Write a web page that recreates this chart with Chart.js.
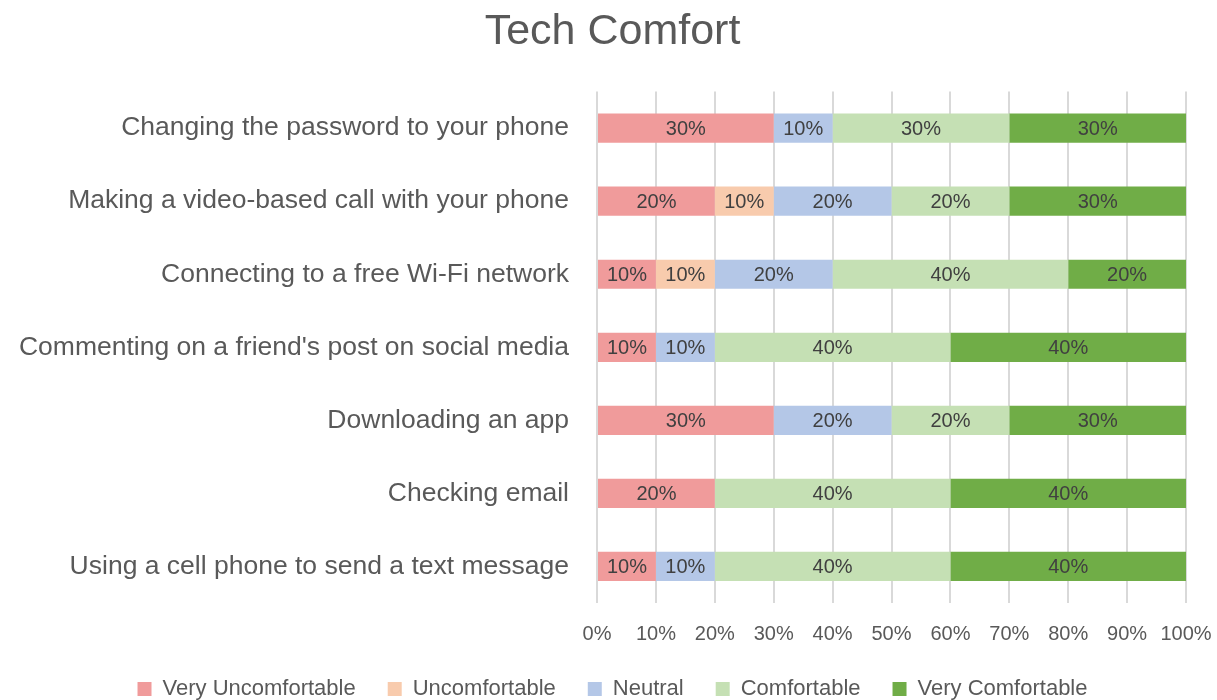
<!DOCTYPE html>
<html>
<head>
<meta charset="utf-8">
<script src="https://cdn.jsdelivr.net/npm/chart.js@4"></script>
<style>
  body { margin: 0; background: #fff; }
  #wrap { width: 1217px; height: 700px; }
</style>
</head>
<body>
<div id="wrap"><canvas id="techChart"></canvas></div>
<script>
const tasks = [
  "Changing the password to your phone",
  "Making a video-based call with your phone",
  "Connecting to a free Wi-Fi network",
  "Commenting on a friend's post on social media",
  "Downloading an app",
  "Checking email",
  "Using a cell phone to send a text message"
];
const veryUncomfortable = [30, 20, 10, 10, 30, 20, 10];
const uncomfortable = [0, 10, 10, 0, 0, 0, 0];
const neutral = [10, 20, 20, 10, 20, 0, 10];
const comfortable = [30, 20, 40, 40, 20, 40, 40];
const veryComfortable = [30, 30, 20, 40, 30, 40, 40];
const xTicks = [0, 10, 20, 30, 40, 50, 60, 70, 80, 90, 100];

const FONT = "'Liberation Sans', Arial, sans-serif";
const GREY = "#595959";

// draws the percentage inside each bar segment
const barLabels = {
  id: "barLabels",
  afterDatasetsDraw(chart) {
    const ctx = chart.ctx;
    ctx.save();
    ctx.font = "20px " + FONT;
    ctx.fillStyle = "#404040";
    ctx.textAlign = "center";
    ctx.textBaseline = "middle";
    chart.data.datasets.forEach((ds, i) => {
      const meta = chart.getDatasetMeta(i);
      meta.data.forEach((bar, j) => {
        const v = ds.data[j];
        if (!v) return;
        const x = (bar.x + bar.base) / 2;
        ctx.fillText(v + "%", x, bar.y + 1);
      });
    });
    ctx.restore();
  }
};

const ctx = document.getElementById("techChart").getContext("2d");

const data = {
  labels: tasks,
  datasets: [
    { label: "Very Uncomfortable", data: veryUncomfortable, backgroundColor: "#F09B9B" },
    { label: "Uncomfortable", data: uncomfortable, backgroundColor: "#F8CBAD" },
    { label: "Neutral", data: neutral, backgroundColor: "#B4C7E7" },
    { label: "Comfortable", data: comfortable, backgroundColor: "#C5E0B4" },
    { label: "Very Comfortable", data: veryComfortable, backgroundColor: "#70AD47" }
  ]
};
data.datasets.forEach(ds => {
  ds.barPercentage = 0.4;
  ds.categoryPercentage = 1;
  ds.borderWidth = 0;
});

const config = {
  type: "bar",
  data: data,
  options: {
    indexAxis: "y",
    responsive: false,
    animation: false,
    layout: { padding: { left: 8, right: 0, top: 4, bottom: -10 } },
    scales: {
      x: {
        stacked: true,
        min: 0,
        max: 100,
        afterBuildTicks(scale) {
          scale.ticks = xTicks.map(v => ({ value: v }));
        },
        ticks: {
          callback: v => v + "%",
          color: GREY,
          font: { family: FONT, size: 20 },
          padding: 19
        },
        grid: { color: "#D9D9D9", lineWidth: 2, drawTicks: false },
        border: { display: false },
        afterFit(scale) {
          scale.paddingRight = 31;
          scale.height = 43;
        }
      },
      y: {
        stacked: true,
        ticks: {
          color: GREY,
          font: { family: FONT, size: 26.5 },
          padding: 20
        },
        grid: { display: false },
        border: { display: false },
        afterFit(scale) {
          scale.width = 597 - 8;
        }
      }
    },
    plugins: {
      title: {
        display: true,
        text: "Tech Comfort",
        color: GREY,
        font: { family: FONT, size: 43, weight: "normal" },
        padding: { top: 2, bottom: 34 }
      },
      legend: {
        position: "bottom",
        labels: {
          color: GREY,
          font: { family: FONT, size: 22 },
          boxWidth: 14,
          boxHeight: 14,
          padding: 32
        }
      },
      tooltip: { enabled: false }
    }
  },
  plugins: [barLabels]
};

const canvas = document.getElementById("techChart");
canvas.width = 1217;
canvas.height = 700;
const techChart = new Chart(ctx, config);
</script>
</body>
</html>
